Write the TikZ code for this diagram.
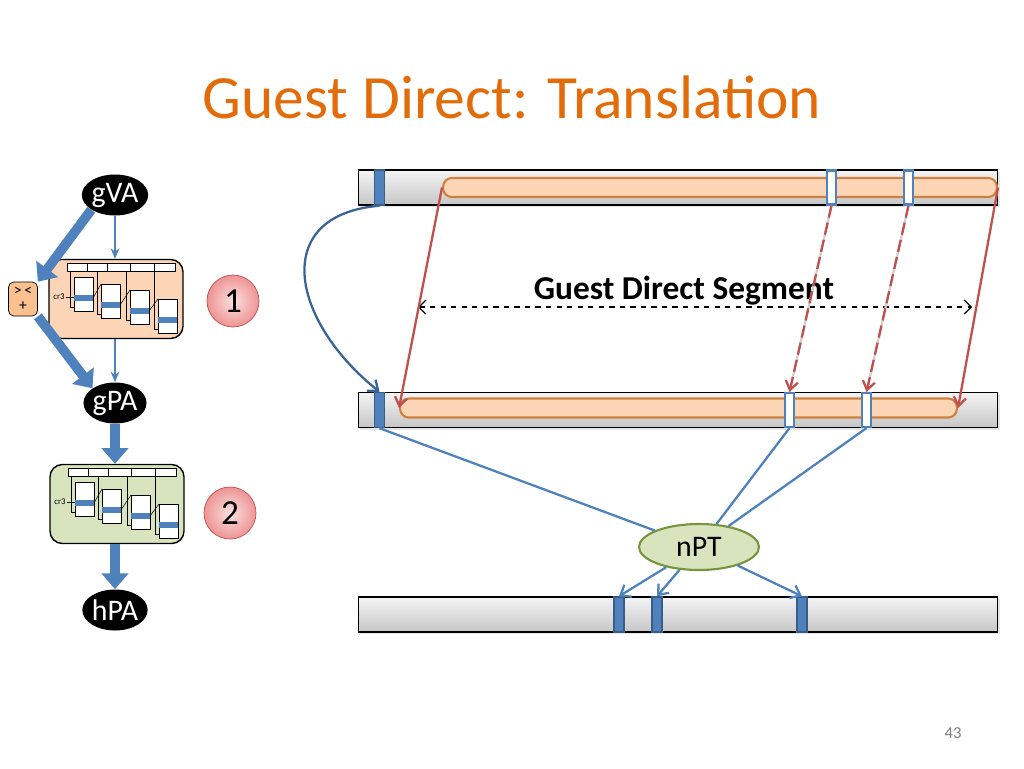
\documentclass[tikz,border=0pt]{standalone}
\usepackage{fontspec}
\setmainfont{Carlito}
\usetikzlibrary{arrows.meta, positioning, shapes.geometric, calc, shadows}
\definecolor{TitleOrange}{HTML}{E36C0A}
\definecolor{BarTop}{HTML}{F4F4F4}
\definecolor{BarBot}{HTML}{C6C6C6}
\definecolor{SegFill}{HTML}{FBD5B5}
\definecolor{SegEdge}{HTML}{D0803F}
\definecolor{BlueMid}{HTML}{4F81BD}
\definecolor{BlueDark}{HTML}{385D8A}
\definecolor{CurveBlue}{HTML}{3A6494}
\definecolor{RedLine}{HTML}{C0504D}
\definecolor{GapGray}{HTML}{D0D0D0}
\definecolor{NptFill}{HTML}{D7E4BD}
\definecolor{NptEdge}{HTML}{77933C}
\definecolor{WalkOne}{HTML}{FBD5B5}
\definecolor{WalkTwo}{HTML}{D7E4BD}
\definecolor{HypFill}{HTML}{FAC090}
\definecolor{NumIn}{HTML}{FBE0E0}
\definecolor{NumOut}{HTML}{EE9494}
\definecolor{NumEdge}{HTML}{C0504D}

% page walk drawing inside a page-table box
\newcommand{\pagewalk}[1]{%
  \begin{scope}[shift={(#1)}, line width=0.3pt]
    \foreach \xa/\xb in {-49/-29,-29/-9,-9/14,14/38,38/59}
      \draw[fill=white] (\xa,-36) rectangle (\xb,-28);
    \foreach \xl/\yt in {-42/-22,-15/-15,14/-9,42/0}{
      \draw (\xl-4,-28) -- (\xl-4,\yt+30) -- (\xl,\yt+30);
      \draw[fill=white] (\xl,\yt) rectangle (\xl+19,\yt+34);
      \fill[BlueMid] (\xl,\yt+18) rectangle (\xl+19,\yt+24);
    }
    \draw (-23,-1) -- (-15,-15);
    \draw (4,6) -- (14,-9);
    \draw (33,12) -- (42,0);
    \node[font=\fontsize{5}{5}\selectfont, inner sep=0.5pt] (cr) at (-57,-2) {cr3};
    \draw (cr.east) -- (-42,-2);
  \end{scope}}

\begin{document}
\begin{tikzpicture}[x=0.02cm, y=-0.02cm, >=Latex,
  membar/.style={draw=black, line width=0.6pt, top color=BarTop, bottom color=BarBot, minimum width=12.8cm, minimum height=0.7cm, inner sep=0pt, drop shadow={opacity=0.2, shadow xshift=1.2pt, shadow yshift=-1.2pt}},
  gdseg/.style={draw=SegEdge, fill=SegFill, line width=1.2pt, rounded corners=5pt, minimum height=0.38cm, inner sep=0pt},
  pgfull/.style={draw=BlueDark, fill=BlueMid, line width=0.8pt, minimum width=0.21cm, minimum height=0.7cm, inner sep=0pt},
  pgopen/.style={draw=BlueMid, fill=white, line width=1.2pt, minimum width=0.19cm, minimum height=0.68cm, inner sep=0pt},
  addr/.style={ellipse, fill=black, text=white, minimum width=1.22cm, minimum height=0.82cm, inner sep=0pt, font=\fontsize{17}{19}\selectfont},
  ptbox/.style={draw=black, line width=0.8pt, rounded corners=7pt, minimum width=2.68cm, minimum height=1.58cm},
  stepnum/.style={circle, draw=NumEdge, line width=0.4pt, inner color=NumIn, outer color=NumOut, minimum size=1.04cm, inner sep=0pt, font=\fontsize{20}{22}\selectfont},
  fatarrow/.style={BlueMid, line width=5.5pt, -{Triangle[length=9pt,width=15pt]}},
  slimarrow/.style={BlueMid, line width=1.2pt, -{Stealth[length=6pt,width=5pt]}},
  maparrow/.style={RedLine, line width=1.3pt, -{Straight Barb[length=5pt,width=7pt]}},
  nptarrow/.style={BlueMid, line width=1.3pt, -{Straight Barb[length=5pt,width=8pt]}},
]
\useasboundingbox (0,0) rectangle (1024,768);

\node[text=TitleOrange, font=\fontsize{35}{40}\selectfont] (title) at (512,97) {Guest Direct: Translation};

% left: two-dimensional walk
\node[addr] (gva) at (115,195) {gVA};
\node[ptbox, fill=WalkOne] (pt1) at (116,299) {};
\node[addr] (gpa) at (115,403) {gPA};
\node[ptbox, fill=WalkTwo] (pt2) at (117,504) {};
\node[addr] (hpa) at (115,610) {hPA};
\node[stepnum] (n1) at (233,301) {1};
\node[stepnum] (n2) at (230,513) {2};
\node[draw=black, fill=HypFill, rounded corners=3pt, minimum width=0.58cm, minimum height=0.68cm, inner sep=0pt, align=center, font=\fontsize{9}{9.5}\selectfont] (hyp) at (23,299) {>\,<\\[-1pt]+};
\pagewalk{pt1.center}
\pagewalk{pt2.center}

\draw[slimarrow] (gva) -- (gva |- pt1.north);
\draw[slimarrow] (gva |- pt1.south) -- (gpa);
\draw[fatarrow] (gva.south west) -- (hyp.north east);
\draw[fatarrow] (hyp.south east) -- (gpa.north west);
\draw[fatarrow] (gpa) -- (gpa |- pt2.north);
\draw[fatarrow] (hpa |- pt2.south) -- (hpa);

% right: address spaces
\node[membar] (gvbar) at (678,187.5) {};
\node[membar] (gpbar) at (678,410) {};
\node[membar] (hpbar) at (678,614.5) {};
\node[gdseg, minimum width=11.08cm] (tseg) at (720,187.5) {};
\node[gdseg, minimum width=11.14cm] (mseg) at (678.5,408) {};
\node[pgfull] (tb) at (379.5,187.5) {};
\node[pgopen] (tw1) at (831.5,187.5) {};
\node[pgopen] (tw2) at (908.5,187.5) {};
\node[pgfull] (mb) at (379.5,410) {};
\node[pgopen] (mw1) at (789.5,410) {};
\node[pgopen] (mw2) at (866.5,410) {};
\node[pgfull, minimum width=0.2cm] (bb1) at (619,614.5) {};
\node[pgfull, minimum width=0.2cm] (bb2) at (657,614.5) {};
\node[pgfull, minimum width=0.2cm] (bb3) at (802,614.5) {};

\node[ellipse, draw=NptEdge, fill=NptFill, line width=1.2pt, minimum width=2.4cm, minimum height=0.92cm, inner sep=0pt, font=\fontsize{17}{19}\selectfont] (npt) at (699,547) {nPT};

\coordinate (gdl) at (418,307);
\coordinate (gdr) at (972,307);
\node[font=\fontsize{19}{21}\selectfont\bfseries] (gdlabel) at (684,291) {Guest Direct Segment};
\draw[dashed, line width=0.7pt, {Straight Barb[length=4pt,width=8pt]}-{Straight Barb[length=4pt,width=8pt]}] (gdl) -- (gdr);

\draw[maparrow] (tseg.west) -- (mseg.west);
\draw[maparrow] (tseg.east) -- (mseg.east);
\draw[GapGray, line width=1.3pt] (tw1.south) -- (mw1.north);
\draw[GapGray, line width=1.3pt] (tw2.south) -- (mw2.north);
\draw[maparrow, dash pattern=on 7pt off 3pt] (tw1.south) -- (mw1.north);
\draw[maparrow, dash pattern=on 7pt off 3pt] (tw2.south) -- (mw2.north);

\draw[CurveBlue, line width=1.3pt, -{Straight Barb[length=5pt,width=8pt]}] (tb.south) .. controls (270,215) and (290,320) .. (mb.north);

\draw[BlueMid, line width=1.3pt] (mb.south) -- (npt);
\draw[BlueMid, line width=1.3pt] (mw1.south) -- (npt);
\draw[BlueMid, line width=1.3pt] (mw2.south) -- (npt);
\draw[nptarrow] (npt) -- (bb1.north);
\draw[nptarrow] (npt) -- (bb2.north);
\draw[nptarrow] (npt) -- (bb3.north);

\node[text=gray, font=\fontsize{9.5}{11}\selectfont] (pgno) at (953,733) {43};
\end{tikzpicture}
\end{document}
